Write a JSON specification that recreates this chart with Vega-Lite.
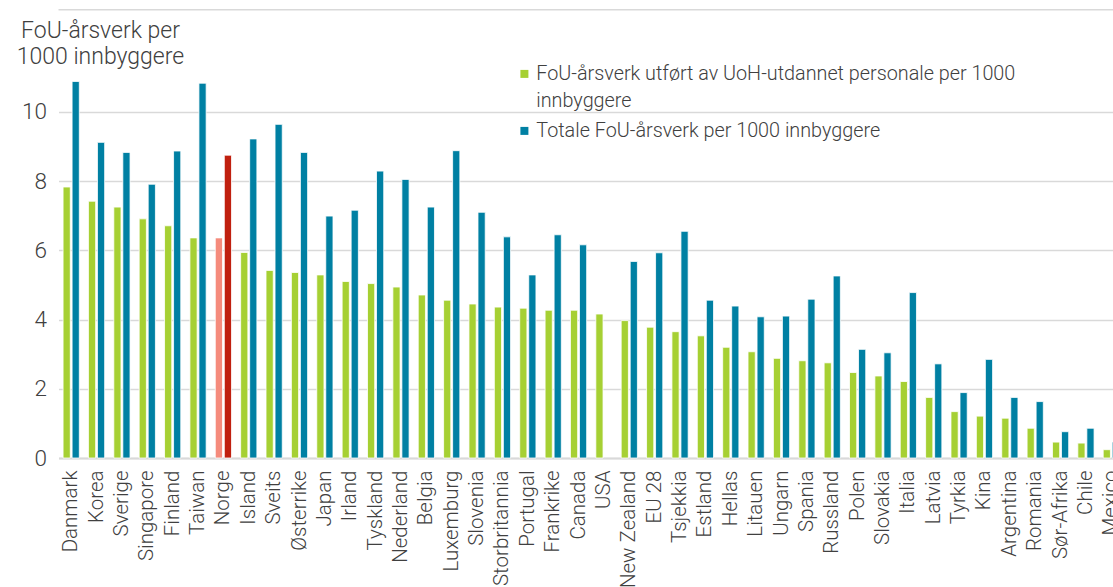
{
  "$schema": "https://vega.github.io/schema/vega-lite/v6.json",
  "autosize": {"type": "none"},
  "padding": {"left": 58.5, "top": 60, "right": 0, "bottom": 129},
  "width": 1065.5,
  "height": 398,
  "background": "white",
  "config": {
    "font": "Roboto",
    "view": {"stroke": null},
    "style": {"guide-label": {"lineHeight": 27}},
    "axis": {"labelFont": "Roboto", "labelFontWeight": 300, "labelColor": "#404040", "titleFont": "Roboto", "titleFontWeight": 300, "titleColor": "#404040"},
    "legend": {"labelFont": "Roboto", "labelFontWeight": 300, "labelColor": "#404040"}
  },
  "datasets": {
    "rows": [
      {"land": "Danmark", "uoh": 7.83, "total": 10.88},
      {"land": "Korea", "uoh": 7.42, "total": 9.12},
      {"land": "Sverige", "uoh": 7.25, "total": 8.83},
      {"land": "Singapore", "uoh": 6.91, "total": 7.91},
      {"land": "Finland", "uoh": 6.71, "total": 8.87},
      {"land": "Taiwan", "uoh": 6.36, "total": 10.83},
      {"land": "Norge", "uoh": 6.36, "total": 8.75},
      {"land": "Island", "uoh": 5.94, "total": 9.22},
      {"land": "Sveits", "uoh": 5.42, "total": 9.64},
      {"land": "Østerrike", "uoh": 5.36, "total": 8.83},
      {"land": "Japan", "uoh": 5.29, "total": 6.99},
      {"land": "Irland", "uoh": 5.10, "total": 7.16},
      {"land": "Tyskland", "uoh": 5.04, "total": 8.29},
      {"land": "Nederland", "uoh": 4.94, "total": 8.05},
      {"land": "Belgia", "uoh": 4.71, "total": 7.25},
      {"land": "Luxemburg", "uoh": 4.56, "total": 8.88},
      {"land": "Slovenia", "uoh": 4.45, "total": 7.10},
      {"land": "Storbritannia", "uoh": 4.36, "total": 6.39},
      {"land": "Portugal", "uoh": 4.33, "total": 5.29},
      {"land": "Frankrike", "uoh": 4.27, "total": 6.45},
      {"land": "Canada", "uoh": 4.27, "total": 6.16},
      {"land": "USA", "uoh": 4.16, "total": null},
      {"land": "New Zealand", "uoh": 3.97, "total": 5.68},
      {"land": "EU 28", "uoh": 3.78, "total": 5.93},
      {"land": "Tsjekkia", "uoh": 3.65, "total": 6.55},
      {"land": "Estland", "uoh": 3.53, "total": 4.56},
      {"land": "Hellas", "uoh": 3.20, "total": 4.39},
      {"land": "Litauen", "uoh": 3.07, "total": 4.08},
      {"land": "Ungarn", "uoh": 2.88, "total": 4.10},
      {"land": "Spania", "uoh": 2.81, "total": 4.59},
      {"land": "Russland", "uoh": 2.75, "total": 5.26},
      {"land": "Polen", "uoh": 2.47, "total": 3.14},
      {"land": "Slovakia", "uoh": 2.37, "total": 3.04},
      {"land": "Italia", "uoh": 2.21, "total": 4.78},
      {"land": "Latvia", "uoh": 1.75, "total": 2.72},
      {"land": "Tyrkia", "uoh": 1.34, "total": 1.89},
      {"land": "Kina", "uoh": 1.21, "total": 2.85},
      {"land": "Argentina", "uoh": 1.15, "total": 1.75},
      {"land": "Romania", "uoh": 0.86, "total": 1.63},
      {"land": "Sør-Afrika", "uoh": 0.46, "total": 0.76},
      {"land": "Chile", "uoh": 0.43, "total": 0.86},
      {"land": "Mexico", "uoh": 0.24, "total": 0.46}
    ]
  },
  "layer": [
    {
      "data": {"name": "rows"},
      "transform": [
        {"fold": ["uoh", "total"], "as": ["key", "verdi"]},
        {"filter": "datum.verdi != null"},
        {"calculate": "datum.key === 'uoh' ? 'FoU-årsverk utført av UoH-utdannet personale per 1000 innbyggere' : 'Totale FoU-årsverk per 1000 innbyggere'", "as": "serie"}
      ],
      "mark": {"type": "bar", "stroke": "white", "strokeWidth": 0.8},
      "encoding": {
        "x": {
          "field": "land", "type": "nominal", "sort": null,
          "scale": {"paddingInner": 0.36, "paddingOuter": 0.18},
          "axis": {"title": null, "labelAngle": -90, "labelAlign": "right", "labelBaseline": "middle", "labelFontSize": 20.5, "labelPadding": 12, "ticks": false, "domainColor": "#d9d9d9", "domainWidth": 2, "labelOverlap": false, "labelLimit": 200}
        },
        "xOffset": {"field": "key", "type": "nominal", "sort": ["uoh", "total"], "scale": {"paddingInner": 0.2, "paddingOuter": 0}},
        "y": {
          "field": "verdi", "type": "quantitative",
          "scale": {"domain": [0, 11.5], "nice": false},
          "axis": {
            "values": [0, 2, 4, 6, 8, 10], "domain": false, "ticks": false,
            "gridColor": "#d9d9d9", "gridWidth": 1.6,
            "labelFontSize": 22.5, "labelPadding": 12,
            "title": ["FoU-årsverk per", "1000 innbyggere"],
            "titleFontSize": 23, "titleAngle": 0, "titleAlign": "center", "titleBaseline": "alphabetic",
            "titleX": 41.5, "titleY": -23, "titleLineHeight": 26
          }
        },
        "color": {
          "condition": [
            {"test": "datum.land === 'Norge' && datum.key === 'uoh'", "value": "#f58b7c"},
            {"test": "datum.land === 'Norge' && datum.key === 'total'", "value": "#c0200f"}
          ],
          "field": "serie", "type": "nominal",
          "scale": {"domain": ["FoU-årsverk utført av UoH-utdannet personale per 1000 innbyggere", "Totale FoU-årsverk per 1000 innbyggere"], "range": ["#a6d033", "#0080a3"]},
          "legend": {
            "title": null, "orient": "none", "legendX": 456, "legendY": 4, "padding": 0,
            "symbolType": "square", "symbolSize": 64, "symbolStrokeWidth": 0, "labelOffset": 2,
            "labelFontSize": 19.8, "labelLimit": 600, "rowPadding": 9,
            "labelExpr": "datum.label === 'FoU-årsverk utført av UoH-utdannet personale per 1000 innbyggere' ? ['FoU-årsverk utført av UoH-utdannet personale per 1000', 'innbyggere'] : datum.label"
          }
        }
      }
    },
    {
      "data": {"values": [{}]},
      "mark": {"type": "rule", "color": "#d9d9d9", "strokeWidth": 1.5},
      "encoding": {"y": {"datum": 12.95, "type": "quantitative"}}
    }
  ]
}
